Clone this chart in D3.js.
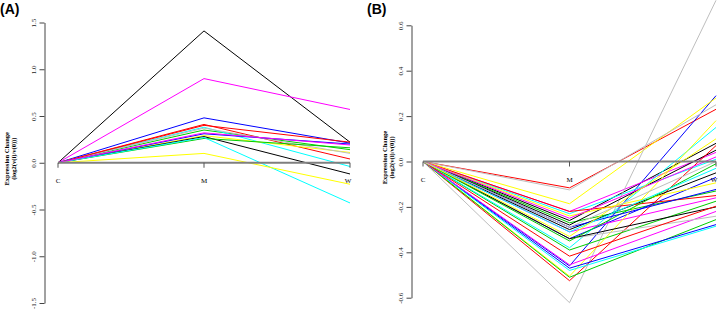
<!DOCTYPE html>
<html>
<head>
<meta charset="utf-8">
<script src="https://cdn.jsdelivr.net/npm/d3@7"></script>
<style>
  body { margin: 0; background: #fff; }
  svg { display: block; }
</style>
</head>
<body>
<svg id="chart" width="720" height="313"></svg>
<script>
// time points on the x axis
var stages = ['C', 'M', 'W'];

// R default palette, lines are coloured in this order
var palette = ['#000000', '#FF0000', '#00CD00', '#0000FF', '#00FFFF', '#FF00FF', '#FFFF00', '#BEBEBE'];

// panel A : value at M and value at W (C is always 0)
var a_M = [1.41, 0.41, 0.35, 0.48, 0.38, 0.90, 0.29, 0.37,
           0.28, 0.40, 0.26, 0.31, 0.27, 0.32, 0.10];
var a_W = [0.22, 0.04, 0.14, 0.21, -0.04, 0.57, 0.11, 0.10,
           -0.12, 0.22, 0.16, 0.20, -0.43, 0.19, -0.23];

// panel B
var b_M = [-0.26, -0.116, -0.27, -0.46, -0.23, -0.22, -0.186, -0.622,
           -0.28, -0.525, -0.39, -0.34, -0.38, -0.31, -0.505, -0.125,
           -0.30, -0.22, -0.51, -0.47, -0.48, -0.455, -0.24, -0.34,
           -0.34, -0.417, -0.35, -0.29, -0.31, -0.25, -0.33, -0.29];
var b_W = [0.08, 0.23, -0.13, 0.29, 0.01, 0.04, 0.28, 0.71,
           0.05, 0.07, -0.175, -0.07, 0.15, -0.16, 0.18, 0.25,
           -0.05, -0.15, -0.256, -0.278, -0.285, -0.22, -0.094, -0.241,
           -0.20, -0.197, -0.01, -0.123, -0.03, 0.02, 0.10, 0.0];

var a_ticks = [-1.5, -1.0, -0.5, 0.0, 0.5, 1.0, 1.5];
var b_ticks = [-0.6, -0.4, -0.2, 0.0, 0.2, 0.4, 0.6];

var svg = d3.select('#chart');

var draw_panel = function (conf) {
  var g = svg.append('g');

  var x = d3.scalePoint().domain(stages).range([conf.x0, conf.x1]);
  var y = d3.scaleLinear().domain([conf.ticks[0], conf.ticks[conf.ticks.length - 1]])
    .range([conf.yBottom, conf.yTop]);

  // build series from the M / W arrays
  var series = conf.M.map(function (m, i) {
    return { color: palette[i % palette.length], vals: [0, m, conf.W[i]] };
  });

  var lineGenerator = d3.line()
    .x(function (d, i) { return x(stages[i]); })
    .y(function (d) { return y(d); });

  g.append('g').selectAll('path')
    .data(series)
    .enter()
    .append('path')
    .attr('d', function (d) { return lineGenerator(d.vals); })
    .attr('stroke', function (d) { return d.color; })
    .attr('stroke-width', 1)
    .style('fill', 'none');

  // zero line
  g.append('line')
    .attr('x1', x('C')).attr('x2', x('W'))
    .attr('y1', y(0)).attr('y2', y(0))
    .attr('stroke', '#7f7f7f')
    .attr('stroke-width', 2);

  // small ticks + stage labels on the zero line
  stages.forEach(function (s) {
    g.append('line')
      .attr('x1', x(s)).attr('x2', x(s))
      .attr('y1', y(0)).attr('y2', y(0) + 5)
      .attr('stroke', '#555')
      .attr('stroke-width', 1);
    g.append('text')
      .attr('x', x(s) - (s === 'W' ? 2 : 0))
      .attr('y', y(0) + 20)
      .attr('text-anchor', 'middle')
      .style('font-family', 'Liberation Serif, serif')
      .style('font-size', '7px')
      .text(s);
  });

  // y axis
  var yAxis = d3.axisLeft(y)
    .tickValues(conf.ticks)
    .tickSize(5)
    .tickSizeOuter(0)
    .tickFormat(function (d) { return d.toFixed(1); });

  var ax = g.append('g')
    .attr('transform', 'translate(' + conf.axisX + ',0)')
    .call(yAxis);
  ax.select('.domain').attr('stroke', '#444');
  ax.selectAll('.tick line').attr('stroke', '#444');
  ax.selectAll('.tick text')
    .attr('x', 0)
    .attr('y', -9)
    .attr('dy', 0)
    .attr('transform', 'rotate(-90)')
    .style('text-anchor', 'middle')
    .style('font-family', 'Liberation Serif, serif')
    .style('font-size', '7px')
    .attr('fill', '#222');

  // axis title
  var midY = (conf.yTop + conf.yBottom) / 2 - 4;
  var titles = ['Expression Change', '(log2(v(i)/v(0)))'];
  titles.forEach(function (t, i) {
    g.append('text')
      .attr('transform', 'translate(' + (conf.titleX + i * 7) + ',' + midY + ') rotate(-90)')
      .attr('text-anchor', 'middle')
      .style('font-family', 'Liberation Serif, serif')
      .style('font-weight', 'bold')
      .style('font-size', '6.5px')
      .text(t);
  });

  // panel letter
  g.append('text')
    .attr('x', conf.labelX)
    .attr('y', 14)
    .style('font-family', 'Liberation Sans, Arial, sans-serif')
    .style('font-weight', 'bold')
    .style('font-size', '14px')
    .text(conf.label);
};

draw_panel({
  label: '(A)', labelX: 0,
  M: a_M, W: a_W, ticks: a_ticks,
  x0: 58, x1: 350, yTop: 22.5, yBottom: 303,
  axisX: 44.5, titleX: 8.5
});

draw_panel({
  label: '(B)', labelX: 367,
  M: b_M, W: b_W, ticks: b_ticks,
  x0: 423, x1: 716, yTop: 25.3, yBottom: 297.7,
  axisX: 411.5, titleX: 387
});
</script>
</body>
</html>
